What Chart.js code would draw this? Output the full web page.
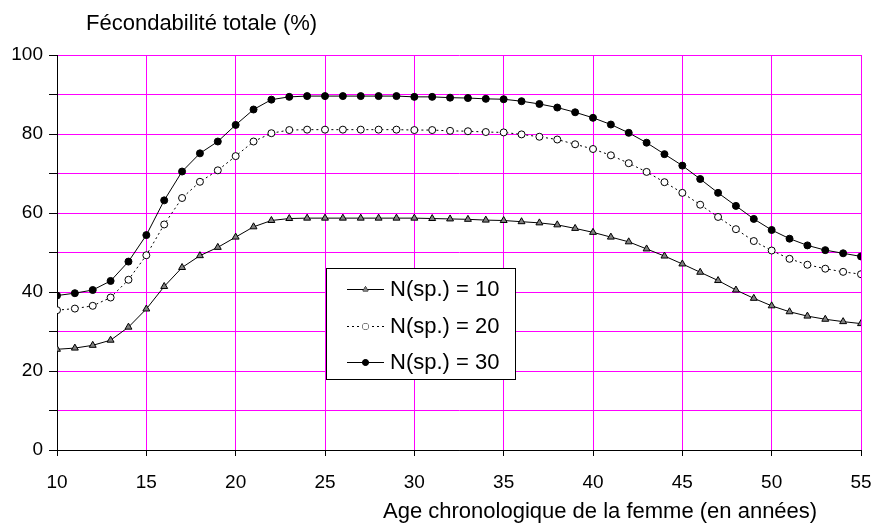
<!DOCTYPE html>
<html>
<head>
<meta charset="utf-8">
<script src="https://cdn.jsdelivr.net/npm/chart.js@4"></script>
<style>
  body { margin: 0; background: #fff; }
</style>
</head>
<body>
<canvas id="myChart" width="872" height="528"></canvas>
<script>
// age de la femme (années)
let ages = [10, 11, 12, 13, 14, 15, 16, 17, 18, 19, 20, 21, 22, 23, 24, 25, 26, 27, 28, 29, 30, 31, 32,
  33, 34, 35, 36, 37, 38, 39, 40, 41, 42, 43, 44, 45, 46, 47, 48, 49, 50, 51, 52, 53, 54, 55];

// fécondabilité totale (%)
let n10 = [25.5, 25.8, 26.5, 27.8, 31.1, 35.7, 41.4, 46.2, 49.2, 51.3, 53.9, 56.5, 58.1,
  58.6, 58.7, 58.7, 58.7, 58.7, 58.7, 58.7, 58.7, 58.6, 58.5, 58.4,
  58.2, 58.1, 57.8, 57.5, 57.0, 56.1, 55.1, 53.9, 52.7, 50.9, 49.1, 47.1, 45.0, 42.9, 40.5, 38.4, 36.5, 35.0, 33.9, 33.1, 32.5, 32.0];
let n20 = [35.4, 35.8, 36.5, 38.6, 43.1, 49.3, 57.1, 63.8, 67.9, 70.8, 74.4, 78.1, 80.2,
  81.0, 81.1, 81.1, 81.1, 81.1, 81.1, 81.1, 81.0, 81.0, 80.8, 80.7,
  80.5, 80.4, 79.9, 79.3, 78.6, 77.4, 76.2, 74.6, 72.6, 70.4, 67.8, 65.1, 62.1, 59.0, 55.9, 52.9, 50.5, 48.4, 46.9, 45.9, 45.1, 44.5];
let n30 = [39.1, 39.7, 40.5, 42.8, 47.7, 54.4, 63.2, 70.5, 75.1, 78.1, 82.3, 86.2, 88.7,
  89.4, 89.6, 89.6, 89.6, 89.6, 89.6, 89.6, 89.4, 89.4, 89.2, 89.1,
  88.9, 88.8, 88.3, 87.6, 86.7, 85.5, 84.1, 82.4, 80.3, 77.8, 74.9, 72.0, 68.6, 65.1, 61.8, 58.5, 55.7, 53.5, 51.8, 50.6, 49.8, 49.0];

let seriesLabels = ["N(sp.) = 10", "N(sp.) = 20", "N(sp.) = 30"];
let yTitle = "Fécondabilité totale (%)";
let xTitle = "Age chronologique de la femme (en années)";

const FONT = "'Liberation Sans', Arial, sans-serif";
const MAGENTA = "#FF00FF";

function toPoints(values) {
  return values.map((v, i) => ({ x: ages[i], y: v }));
}

// légende dans la zone du graphique + titres
const decor = {
  id: "decor",
  afterDraw(chart) {
    const ctx = chart.ctx;
    ctx.save();
    ctx.fillStyle = "#000";
    ctx.font = "22px " + FONT;
    ctx.textBaseline = "alphabetic";
    ctx.textAlign = "left";
    ctx.fillText(yTitle, 86, 30);
    ctx.fillText(xTitle, 383, 518);

    // boîte de légende
    let bx = 326, by = 268, bw = 189, bh = 111;
    ctx.fillStyle = "#fff";
    ctx.fillRect(bx, by, bw, bh);
    ctx.strokeStyle = "#000";
    ctx.lineWidth = 1;
    ctx.strokeRect(bx + 0.5, by + 0.5, bw, bh);

    let rows = [289, 326, 362];
    chart.data.datasets.forEach((ds, i) => {
      let y = rows[i] + 0.5;
      ctx.beginPath();
      ctx.setLineDash(ds.borderDash || []);
      ctx.strokeStyle = "#000";
      ctx.moveTo(347, y);
      ctx.lineTo(384, y);
      ctx.stroke();
      ctx.setLineDash([]);
      Chart.helpers.drawPoint(ctx, {
        pointStyle: ds.pointStyle,
        radius: 3,
        borderWidth: 1,
      }, 365.5, y);
      ctx.fillStyle = ds.pointBackgroundColor;
      ctx.fill();
      ctx.fillStyle = "#000";
      ctx.font = "22px " + FONT;
      ctx.textBaseline = "middle";
      ctx.fillText(ds.label, 390, rows[i] + 1);
    });
    ctx.restore();
  },
};

let config = {
  type: "line",
  data: {
    datasets: [
      {
        label: seriesLabels[0],
        data: toPoints(n10),
        borderColor: "#000",
        borderWidth: 1,
        pointStyle: "triangle",
        pointRadius: 4,
        pointBorderWidth: 1,
        pointBorderColor: "#000",
        pointBackgroundColor: "#808080",
      },
      {
        label: seriesLabels[1],
        data: toPoints(n20),
        borderColor: "#000",
        borderWidth: 1,
        borderDash: [2, 3],
        pointStyle: "circle",
        pointRadius: 3.5,
        pointBorderWidth: 1,
        pointBorderColor: "#000",
        pointBackgroundColor: "#fff",
      },
      {
        label: seriesLabels[2],
        data: toPoints(n30),
        borderColor: "#000",
        borderWidth: 1,
        pointStyle: "circle",
        pointRadius: 3.5,
        pointBorderWidth: 1,
        pointBorderColor: "#000",
        pointBackgroundColor: "#000",
      },
    ],
  },
  options: {
    responsive: false,
    animation: false,
    layout: { padding: { left: 0, right: 11, top: 55, bottom: 0 } },
    elements: { line: { tension: 0 } },
    plugins: {
      legend: { display: false },
      title: { display: false },
      tooltip: { enabled: false },
    },
    scales: {
      x: {
        type: "linear",
        min: 10,
        max: 55,
        afterFit: (scale) => {
          scale.height = 78;
          scale.paddingLeft = 0;
          scale.paddingRight = 0;
        },
        ticks: { stepSize: 5, color: "#000", font: { family: FONT, size: 19 }, padding: 15, maxRotation: 0 },
        grid: {
          color: (c) => (c.tick && c.tick.value === 10 ? "#000" : MAGENTA),
          tickColor: "#000",
          tickLength: 6,
          lineWidth: 1,
        },
        border: { display: true, color: "#000", width: 1 },
      },
      y: {
        min: 0,
        max: 100,
        afterFit: (scale) => {
          scale.width = 57;
          scale.paddingTop = 0;
          scale.paddingBottom = 0;
        },
        ticks: {
          stepSize: 10,
          autoSkip: false,
          color: "#000",
          font: { family: FONT, size: 19 },
          padding: 6,
          callback: (v) => (v % 20 === 0 ? v : ""),
        },
        grid: {
          color: (c) => (c.tick && c.tick.value === 0 ? "#000" : MAGENTA),
          tickColor: "#000",
          tickLength: 8,
          lineWidth: 1,
        },
        border: { display: true, color: "#000", width: 1 },
      },
    },
  },
  plugins: [decor],
};

new Chart(document.getElementById("myChart"), config);
</script>
</body>
</html>
